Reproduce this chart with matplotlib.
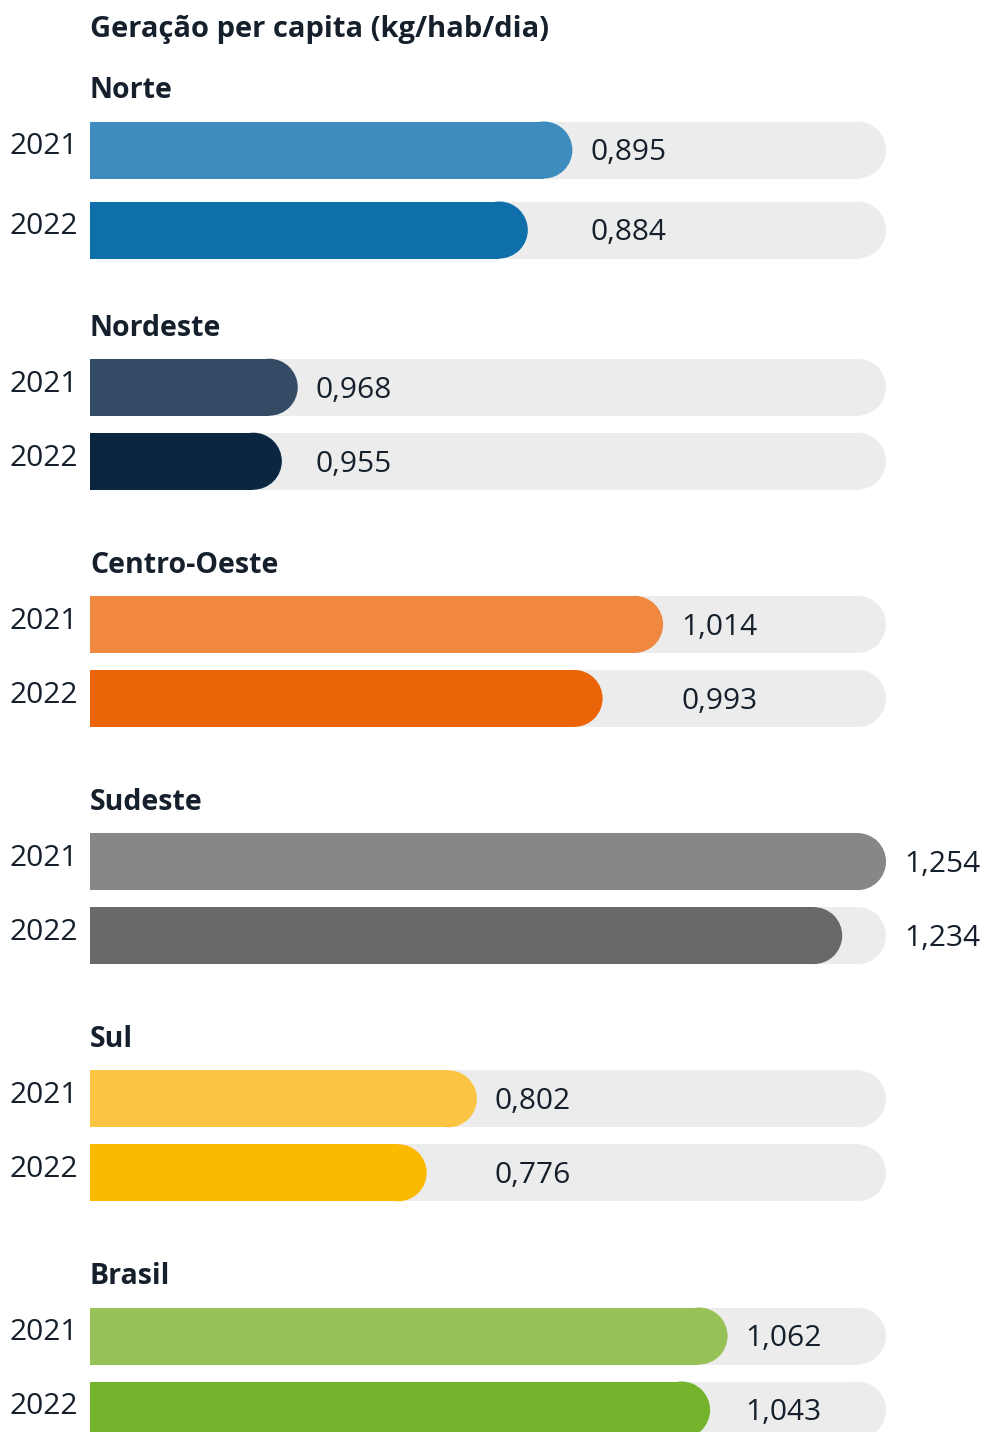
import matplotlib.pyplot as plt
from matplotlib.patches import Ellipse

# values printed on the chart (kg/hab/dia)
regions = ["Norte", "Nordeste", "Centro-Oeste", "Sudeste", "Sul", "Brasil"]
years = ["2021", "2022"]
values_2021 = [0.895, 0.968, 1.014, 1.254, 0.802, 1.062]
values_2022 = [0.884, 0.955, 0.993, 1.234, 0.776, 1.043]
# bar lengths as drawn in the original, as a share of the grey track
fill_2021 = [0.606, 0.261, 0.720, 1.000, 0.486, 0.801]
fill_2022 = [0.550, 0.241, 0.644, 0.945, 0.423, 0.779]

colors_2021 = ["#3d8cbd", "#344b66", "#f0883f", "#878787", "#fbc543", "#97c257"]
colors_2022 = ["#0f6fab", "#0a2640", "#eb6508", "#696969", "#fbb900", "#73b42c"]
track_color = "#ececec"
text_color = "#16202c"

W, H = 986, 1432
x0, x1 = 90, 886          # track start / end in pixels
bar_h = 57
px = 1.0 / (x1 - x0)      # one pixel in track units
r = bar_h / 2 * px

fig = plt.figure(figsize=(W / 100, H / 100), dpi=100)
ax = fig.add_axes([0, 0, 1, 1])
ax.set_xlim(-x0 * px, (W - x0) * px)
ax.set_ylim(H, 0)
ax.axis("off")


def pill(y, length, color):
    # flat left end, rounded right end
    ax.barh(y, max(length - r, 0), left=0, height=bar_h, color=color, lw=0)
    ax.add_patch(Ellipse((length - r, y), 2 * r, bar_h, color=color, lw=0))


def fmt(v):
    return f"{v:.3f}".replace(".", ",")


ax.text(0, 29, "Geração per capita (kg/hab/dia)", fontsize=21, fontweight="bold",
        color=text_color, va="center", ha="left", family="Open Sans")

for i, reg in enumerate(regions):
    top = 91 + i * 237.2
    ax.text(0, top, reg, fontsize=20.5, fontweight="bold", color=text_color,
            va="center", ha="left", family="Open Sans")
    second = 139 if i == 0 else 133
    rows = [(top + 59, fill_2021[i], colors_2021[i], values_2021[i], years[0]),
            (top + second, fill_2022[i], colors_2022[i], values_2022[i], years[1])]
    lab_x = max(fill_2021[i], fill_2022[i]) + 18 * px
    for y, f, c, v, yr in rows:
        pill(y, 1.0, track_color)
        pill(y, f, c)
        ax.text(lab_x, y + 3, fmt(v), fontsize=21.5, color=text_color,
                va="center", ha="left", family="Open Sans")
        ax.text(-12 * px, y - 3, yr, fontsize=21.5, color=text_color,
                va="center", ha="right", family="Open Sans")

fig.savefig("out.png", dpi=100)
